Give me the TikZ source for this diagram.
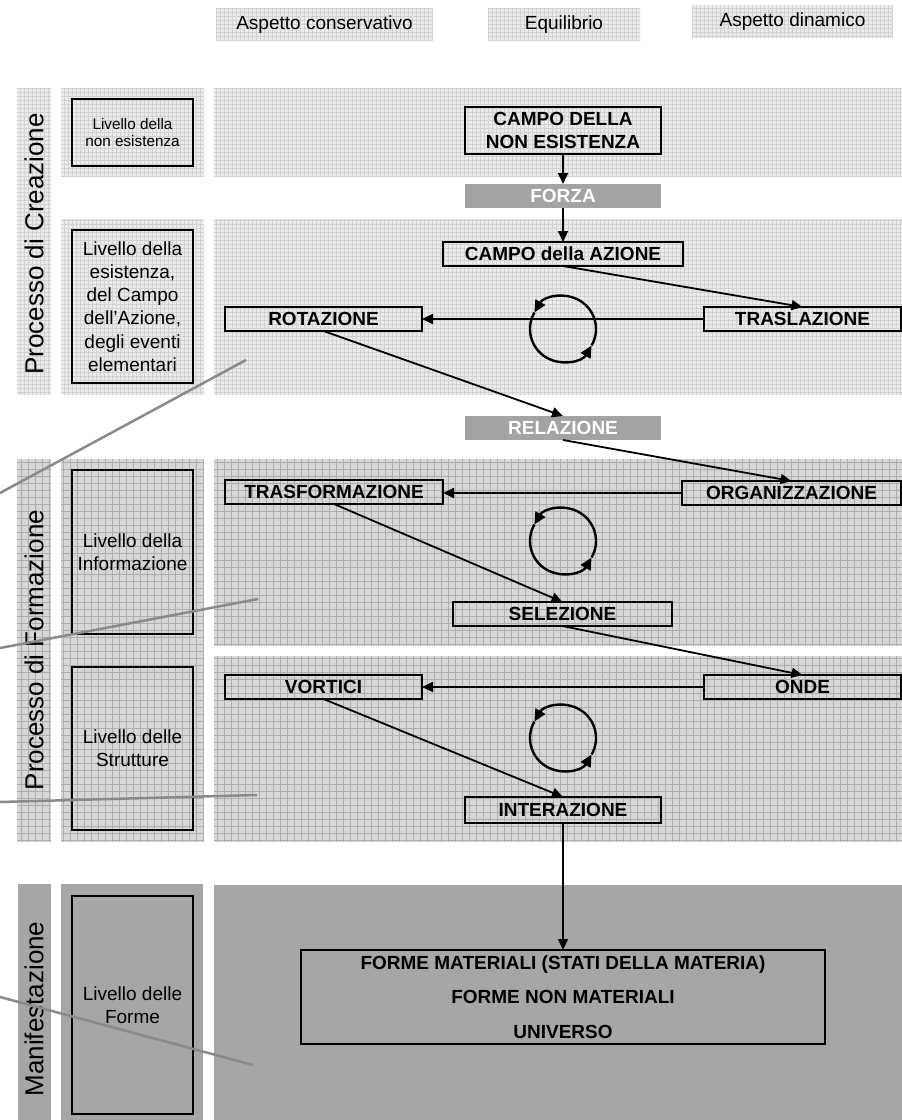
\documentclass[tikz,border=0pt]{standalone}
\usepackage{fontspec}
\setmainfont{Liberation Sans}
\usetikzlibrary{arrows.meta}
\definecolor{lightbg}{HTML}{EBEBEB}
\definecolor{lightln}{HTML}{D2D2D2}
\definecolor{midbg}{HTML}{D7D7D7}
\definecolor{midln}{HTML}{ADADAD}
\definecolor{darkbg}{HTML}{A6A6A6}
\definecolor{tagbg}{HTML}{A3A3A3}
\definecolor{ghost}{HTML}{8A8A8A}
\newcommand\panelL[4]{\begin{scope}\clip (#1,#2) rectangle (#3,#4);
  \fill[lightbg] (#1,#2) rectangle (#3,#4);
  \draw[lightln, line width=0.35pt, step=4pt] (#1,#2) grid (#3,#4);\end{scope}}
\newcommand\panelM[4]{\begin{scope}\clip (#1,#2) rectangle (#3,#4);
  \fill[midbg] (#1,#2) rectangle (#3,#4);
  \draw[midln, line width=0.6pt, step=7pt] (#1,#2) grid (#3,#4);\end{scope}}
\begin{document}
\begin{tikzpicture}[x=1pt,y=-1pt,
  every node/.style={inner sep=0pt, outer sep=0pt},
  tbox/.style={draw=black, line width=1.6pt, font=\bfseries\fontsize{19}{23}\selectfont, align=center},
  tag/.style={fill=tagbg, text=white, font=\bfseries\fontsize{19}{23}\selectfont},
  lvl/.style={draw=black, line width=1.5pt, align=center, font=\fontsize{19}{23.3}\selectfont},
  hdr/.style={font=\fontsize{19}{23}\selectfont},
  vlab/.style={rotate=90, font=\fontsize{26}{30}\selectfont},
  conn/.style={line width=1.8pt, -{Triangle[length=11pt,width=10pt]}},
  cyc/.style={line width=2.4pt, -{Triangle[length=12pt,width=11pt]}},
  ghostline/.style={draw=ghost, line width=2.5pt}
]
\useasboundingbox (0,0) rectangle (902,1120);
\fill[white] (0,0) rectangle (902,1120);

% header panels
\panelL{216}{8}{433}{41}
\panelL{488}{8}{640}{41}
\panelL{692}{5}{893}{38}
\node[hdr] (h1) at (324.5,24.5) {Aspetto conservativo};
\node[hdr] (h2) at (564,24.5) {Equilibrio};
\node[hdr] (h3) at (792.5,21.5) {Aspetto dinamico};

% creation process panels
\panelL{17}{88}{51}{395}
\panelL{61}{88}{204}{176}
\panelL{61}{219}{204}{395}
\panelL{214}{88}{902}{176}
\panelL{214}{219}{902}{395}
% formation process panels
\panelM{17}{459}{51}{842}
\panelM{61}{459}{204}{842}
\panelM{214}{459}{902}{646}
\panelM{214}{656}{902}{842}
% manifestation panels
\fill[darkbg] (18,884) rectangle (51,1120);
\fill[darkbg] (61,884) rectangle (203,1120);
\fill[darkbg] (214,885) rectangle (902,1120);

% vertical labels
\node[vlab] (v1) at (34,244) {Processo di Creazione};
\node[vlab] (v2) at (34,650) {Processo di Formazione};
\node[vlab] (v3) at (34,1009) {Manifestazione};

% level boxes
\node[lvl, minimum width=121, minimum height=67, font=\fontsize{15.3}{17.3}\selectfont] (l1) at (132.5,132.5) {Livello della\\non esistenza};
\node[lvl, minimum width=121, minimum height=153] (l2) at (132.5,306.5) {Livello della\\esistenza,\\del Campo\\dell’Azione,\\degli eventi\\elementari};
\node[lvl, minimum width=121, minimum height=164] (l3) at (132.5,552) {Livello della\\Informazione};
\node[lvl, minimum width=121, minimum height=163] (l4) at (132.5,748.5) {Livello delle\\Strutture};
\node[lvl, minimum width=121, minimum height=218] (l5) at (132.5,1005) {Livello delle\\Forme};

% main boxes
\node[tbox, minimum width=196, minimum height=47] (campo0) at (563,130.5) {CAMPO DELLA\\NON ESISTENZA};
\node[tag, minimum width=196, minimum height=24] (forza) at (563,196) {FORZA};
\node[tbox, minimum width=240, minimum height=24] (campoaz) at (563,254) {CAMPO della AZIONE};
\node[tbox, minimum width=197, minimum height=24] (rot) at (323.5,319) {ROTAZIONE};
\node[tbox, minimum width=197, minimum height=24] (trasl) at (802.5,319) {TRASLAZIONE};
\node[tag, minimum width=196, minimum height=24] (rel) at (563,428) {RELAZIONE};
\node[tbox, minimum width=218, minimum height=24] (trasf) at (334,492) {TRASFORMAZIONE};
\node[tbox, minimum width=219, minimum height=24] (org) at (791.5,493) {ORGANIZZAZIONE};
\node[tbox, minimum width=219, minimum height=24] (sel) at (562.5,614) {SELEZIONE};
\node[tbox, minimum width=197, minimum height=24] (vort) at (323.5,687) {VORTICI};
\node[tbox, minimum width=197, minimum height=24] (onde) at (802.5,687) {ONDE};
\node[tbox, minimum width=196, minimum height=26] (inter) at (563,810) {INTERAZIONE};
\node[tbox, line width=1.4pt, minimum width=524, minimum height=94, font=\bfseries\fontsize{19}{34.5}\selectfont] (forme) at (563,997) {FORME MATERIALI (STATI DELLA MATERIA)\\FORME NON MATERIALI\\UNIVERSO};

% connectors
\draw[conn] (campo0.south) -- (forza.north);
\draw[conn] (forza.south) -- (campoaz.north);
\draw[conn] (campoaz.south) -- (trasl.north);
\draw[conn] (trasl.west) -- (rot.east);
\draw[conn] (rot.south) -- (rel.north);
\draw[conn] (rel.south) -- (org.north);
\draw[conn] (org.west) -- (org.west -| trasf.east);
\draw[conn] (trasf.south) -- (sel.north);
\draw[conn] (sel.south) -- (onde.north);
\draw[conn] (onde.west) -- (vort.east);
\draw[conn] (vort.south) -- (inter.north);
\draw[conn] (inter.south) -- (forme.north);

% cycles
\coordinate (cyc1) at (563,329);
\coordinate (cyc2) at (563,541);
\coordinate (cyc3) at (563,738);
\foreach \c in {cyc1,cyc2,cyc3}{
  \draw[cyc] (\c) ++(-30:33pt) arc[start angle=-30, end angle=150, radius=33pt];
  \draw[cyc] (\c) ++(150:33pt) arc[start angle=150, end angle=330, radius=33pt];
}

% grey pointer lines
\coordinate (g1a) at (0,493);   \coordinate (g1b) at (246,360);
\coordinate (g2a) at (0,648);   \coordinate (g2b) at (258,599);
\coordinate (g3a) at (0,802);   \coordinate (g3b) at (257,795);
\coordinate (g4a) at (0,997);   \coordinate (g4b) at (253,1065);
\draw[ghostline] (g1a) -- (g1b);
\draw[ghostline] (g2a) -- (g2b);
\draw[ghostline] (g3a) -- (g3b);
\draw[ghostline] (g4a) -- (g4b);
\end{tikzpicture}
\end{document}
